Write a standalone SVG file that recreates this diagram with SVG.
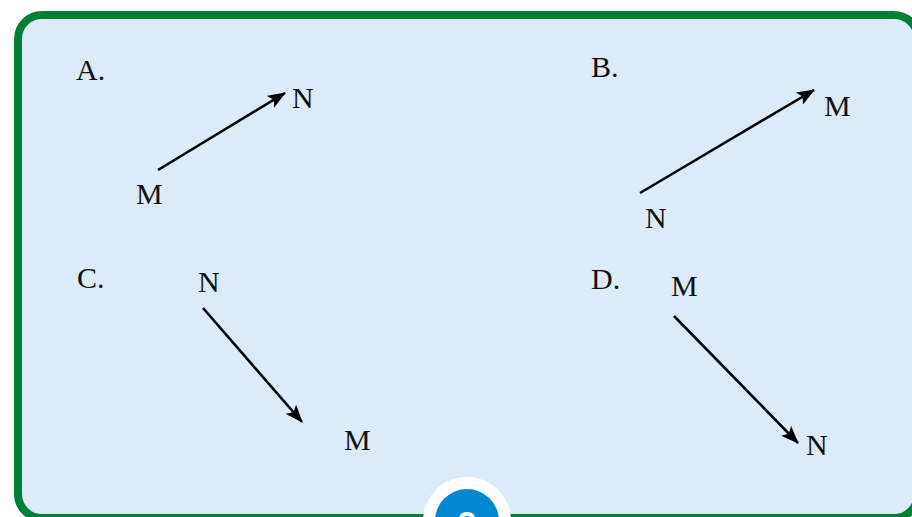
<svg xmlns="http://www.w3.org/2000/svg" width="912" height="517" viewBox="0 0 912 517">
<defs>
<style>
.lbl{font-family:"Liberation Serif","Times New Roman",serif;font-size:30px;fill:#111;}
.arr{stroke:#000;stroke-width:2.6;fill:none;marker-end:url(#ah);}
</style>
<marker id="ah" viewBox="0 0 18 14" refX="17" refY="7" markerWidth="18" markerHeight="14" markerUnits="userSpaceOnUse" orient="auto">
<path d="M0,0 L18,7 L0,14 L4,7 Z" fill="#000"/>
</marker>
</defs>
<rect x="0" y="0" width="912" height="517" fill="#ffffff"/>
<rect id="frame" x="18" y="15" width="900" height="503" rx="24" ry="24" fill="#ddebf8" stroke="#008037" stroke-width="8"/>
<g id="badge">
<circle cx="467" cy="521" r="44" fill="#ffffff"/>
<circle cx="467" cy="521" r="32" fill="#0288d1"/>
<text x="467" y="535" text-anchor="middle" font-family="Liberation Sans, Arial, sans-serif" font-weight="bold" font-size="34" fill="#ffffff">2</text>
</g>
<g id="connectors">
<line class="arr" x1="158" y1="170" x2="285" y2="93"/>
<line class="arr" x1="640" y1="193" x2="814" y2="90"/>
<line class="arr" x1="203" y1="308" x2="302" y2="422"/>
<line class="arr" x1="674" y1="316" x2="798" y2="443"/>
</g>
<g id="optA">
<text class="lbl" x="76" y="80">A.</text>
<text class="lbl" x="292" y="108">N</text>
<text class="lbl" x="136" y="204">M</text>
</g>
<g id="optB">
<text class="lbl" x="591" y="77">B.</text>
<text class="lbl" x="824" y="116">M</text>
<text class="lbl" x="645" y="228">N</text>
</g>
<g id="optC">
<text class="lbl" x="77" y="288">C.</text>
<text class="lbl" x="198" y="292">N</text>
<text class="lbl" x="344" y="450">M</text>
</g>
<g id="optD">
<text class="lbl" x="591" y="289">D.</text>
<text class="lbl" x="671" y="296">M</text>
<text class="lbl" x="806" y="455">N</text>
</g>
</svg>
